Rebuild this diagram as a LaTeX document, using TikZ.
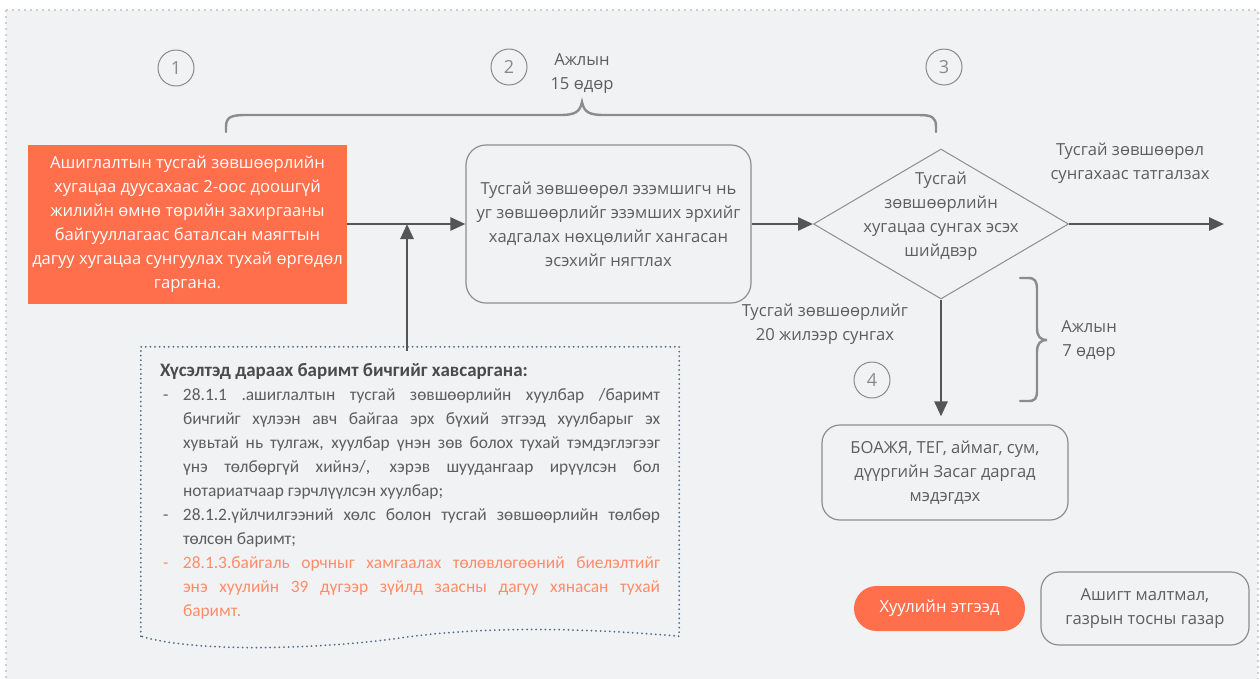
\documentclass[tikz,border=0pt]{standalone}
\usepackage{fontspec}
\setmainfont{Open Sans}
\newfontfamily\docfont{Carlito}
\usetikzlibrary{arrows.meta,shapes.geometric}
\definecolor{bgc}{HTML}{F1F2F4}
\definecolor{framec}{HTML}{CFCFD2}
\definecolor{orangec}{HTML}{FF6F4B}
\definecolor{orangetxt}{HTML}{FF8C69}
\definecolor{txtc}{HTML}{5E5E5E}
\definecolor{numc}{HTML}{8A8A8A}
\definecolor{edgec}{HTML}{8E8E8E}
\definecolor{arrc}{HTML}{555555}
\definecolor{bracec}{HTML}{8C8C8C}
\definecolor{docc}{HTML}{4F6C88}
\begin{document}
\begin{tikzpicture}[x=1pt,y=-1pt,
  every node/.style={text=txtc, font=\fontsize{16.6}{24}\selectfont},
  procbox/.style={draw=edgec, line width=1.2pt, rounded corners=20pt, align=center, inner sep=0pt},
  orangebox/.style={fill=orangec, text=white, align=center, inner sep=0pt},
  num/.style={circle, draw=numc, line width=1pt, minimum size=36pt, inner sep=0pt, text=numc, font=\fontsize{18}{20}\selectfont},
  lbl/.style={align=center, inner sep=0pt},
  arr/.style={draw=arrc, line width=2.6pt, -{Triangle[length=15pt,width=13pt]}},
  bracestyle/.style={draw=bracec, line width=2.4pt, line cap=round},
  docdots/.style={draw=docc, line width=2pt, line cap=round, dash pattern=on 0pt off 4.6pt}
]
\useasboundingbox (0,0) rectangle (1260,678);
\fill[white] (0,0) rectangle (1260,678);
\draw[fill=bgc, draw=framec, line width=1.6pt, dash pattern=on 2pt off 4pt] (6,10) rectangle (1258,700);

% step numbers
\node[num] (n1) at (176,68) {1};
\node[num] (n2) at (509,67) {2};
\node[num] (n3) at (944,67) {3};
\node[num] (n4) at (872,380) {4};

% braces
\draw[bracestyle] (226,132) -- (226,127) .. controls (226,117) and (231,115) .. (246,115) -- (560,115) .. controls (575,115) and (580,112) .. (582,102) .. controls (584,112) and (589,115) .. (604,115) -- (918,115) .. controls (932,115) and (936,117) .. (936,127) -- (936,132);
\node[lbl] (d15) at (582,74) {Ажлын\\15 өдөр};

\draw[bracestyle] (1020,278) -- (1028,278) .. controls (1035,278) and (1037,281) .. (1037,290) -- (1037,328) .. controls (1037,336) and (1040,340) .. (1047,340) .. controls (1040,340) and (1037,344) .. (1037,352) -- (1037,390) .. controls (1037,399) and (1035,401) .. (1028,401) -- (1020,401);
\node[lbl] (d7) at (1089,341) {Ажлын\\7 өдөр};

% main nodes
\node[orangebox, minimum width=319pt, minimum height=159pt] (app) at (187.5,224) {Ашиглалтын тусгай зөвшөөрлийн\\хугацаа дуусахаас 2-оос доошгүй\\жилийн өмнө төрийн захиргааны\\байгууллагаас баталсан маягтын\\дагуу хугацаа сунгуулах тухай өргөдөл\\гаргана.};

\node[procbox, minimum width=285pt, minimum height=158pt] (chk) at (608.5,224) {Тусгай зөвшөөрөл эзэмшигч нь\\уг зөвшөөрлийг эзэмших эрхийг\\хадгалах нөхцөлийг хангасан\\эсэхийг нягтлах};

\node[diamond, draw=edgec, line width=1pt, minimum width=255pt, minimum height=150pt, inner sep=0pt] (dia) at (941,224) {};
\node[lbl] (diat) at (941,216) {Тусгай\\зөвшөөрлийн\\хугацаа сунгах эсэх\\шийдвэр};

\node[procbox, rounded corners=18pt, minimum width=246pt, minimum height=95pt] (boaj) at (945,472.5) {БОАЖЯ, ТЕГ, аймаг, сум,\\дүүргийн Засаг даргад\\мэдэгдэх};

\node[lbl] (refuse) at (1130,163) {Тусгай зөвшөөрөл\\сунгахаас татгалзах};
\node[lbl] (ext) at (825,324) {Тусгай зөвшөөрлийг\\20 жилээр сунгах};

% document box
\node[inner sep=0pt, minimum width=538pt, minimum height=289pt] (doc) at (410,491.5) {%
\begin{minipage}{500pt}\docfont\fontsize{17.4}{24}\selectfont
\hyphenpenalty=10000\exhyphenpenalty=10000\parskip=0pt\parindent=0pt\emergencystretch=30pt
\color{txtc}
{\fontsize{19}{24}\selectfont\bfseries\color{txtc!80!black}Хүсэлтэд дараах баримт бичгийг хавсаргана:}\par
\hangindent=23pt\hangafter=1\makebox[23pt][l]{\hspace{3pt}-}28.1.1 .ашиглалтын тусгай зөвшөөрлийн хуулбар /баримт\linebreak бичгийг хүлээн авч байгаа эрх бүхий этгээд хуулбарыг эх\linebreak хувьтай нь тулгаж, хуулбар үнэн зөв болох тухай тэмдэглэгээг\linebreak үнэ төлбөргүй хийнэ/, хэрэв шуудангаар ирүүлсэн бол\linebreak нотариатчаар гэрчлүүлсэн хуулбар;\par
\hangindent=23pt\hangafter=1\makebox[23pt][l]{\hspace{3pt}-}28.1.2.үйлчилгээний хөлс болон тусгай зөвшөөрлийн төлбөр\linebreak төлсөн баримт;\par
{\color{orangetxt}\hangindent=23pt\hangafter=1\makebox[23pt][l]{\hspace{3pt}-}28.1.3.байгаль орчныг хамгаалах төлөвлөгөөний биелэлтийг\linebreak энэ хуулийн 39 дүгээр зүйлд заасны дагуу хянасан тухай\linebreak баримт.\par}
\end{minipage}};
\draw[docdots] (doc.south west) -- (doc.north west) -- (doc.north east) -- (doc.south east)
  .. controls (560,626) and (470,628) .. (400,638)
  .. controls (330,648) and (200,654) .. (doc.south west);

% connectors
\coordinate (join) at (407,224);
\coordinate (out) at (1224,224);
\draw[arr] (app.east) -- (chk.west);
\draw[arr] ([yshift=-4pt]doc.north -| join) -- (join);
\draw[arr] (chk.east) -- (dia.west);
\draw[arr] (dia.east) -- (out);
\draw[arr, shorten >=8pt] (dia.south) -- (dia.south |- boaj.north);

% legend
\node[orangebox, rounded corners=22.5pt, minimum width=171pt, minimum height=45pt] (leg1) at (939.5,608.5) {Хуулийн этгээд};
\node[procbox, rounded corners=18pt, minimum width=208pt, minimum height=73pt] (leg2) at (1145,608.5) {Ашигт малтмал,\\газрын тосны газар};
\end{tikzpicture}
\end{document}
